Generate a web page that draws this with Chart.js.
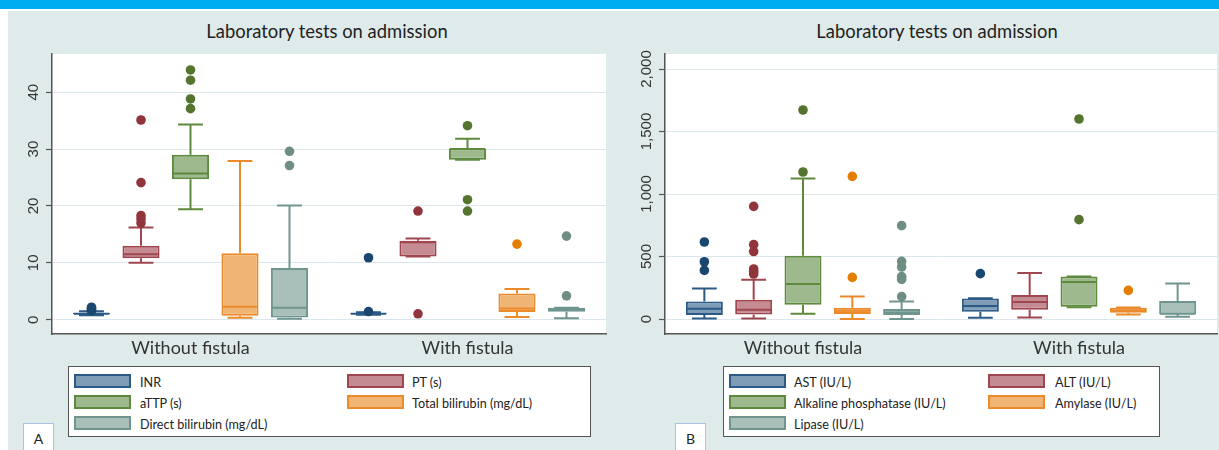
<!DOCTYPE html>
<html><head><meta charset="utf-8">
<script src="https://cdn.jsdelivr.net/npm/chart.js@4.4.0/dist/chart.umd.min.js"></script>
<style>
html,body{margin:0;padding:0;background:#fff;width:1219px;height:450px;overflow:hidden;font-family:Lato,"Open Sans",sans-serif;}
#band{position:absolute;left:0;top:0;width:1219px;height:9px;background:#00aeef;}
#bg{position:absolute;left:8px;top:11px;width:1211px;height:439px;background:#dfeaea;}
.title{position:absolute;top:18px;font-size:20px;line-height:24px;color:#222;white-space:nowrap;transform:translateX(-50%) scaleX(0.92);}
canvas{position:absolute;}
.legend{position:absolute;top:366px;height:69px;background:#fff;border:1.5px solid #555;}
.sw{position:absolute;width:53px;height:10px;border:2px solid;}
.lt{position:absolute;font-size:14px;line-height:16px;color:#222;white-space:nowrap;transform:scaleX(0.9);transform-origin:left center;}
.tag{position:absolute;top:423px;width:29px;height:30px;background:#fff;border:1px solid #a9c3e3;font-size:14px;text-align:center;line-height:30px;color:#222;}
</style></head>
<body>
<div id="band"></div>
<div id="bg"></div>
<div class="title" style="left:327px">Laboratory tests on admission</div>
<div class="title" style="left:937px">Laboratory tests on admission</div>
<canvas id="cA" width="602" height="355" style="left:8px;top:11px;width:602px;height:355px"></canvas>
<canvas id="cB" width="607" height="355" style="left:612px;top:11px;width:607px;height:355px"></canvas>
<div class="legend" id="legA" style="left:68px;width:521px"></div>
<div class="legend" id="legB" style="left:723px;width:435px"></div>
<div class="tag" style="left:23px">A</div>
<div class="tag" style="left:675px">B</div>
<script>
// ---------- data ----------
const groups = ['Without fistula', 'With fistula'];

// Panel A (each row: [without fistula, with fistula])
const seriesA = ['INR', 'PT (s)', 'aTTP (s)', 'Total bilirubin (mg/dL)', 'Direct bilirubin (mg/dL)'];
const tickValuesA = [0, 10, 20, 30, 40];
const tickLabelsA = ['0', '10', '20', '30', '40'];
const q1A  = [[0.95, 0.95], [10.8, 11.1], [24.7, 28.1], [0.7, 1.35], [0.4, 1.4]];
const medA = [[1.05, 1.05], [11.5, 13.6], [25.7, 30.0], [2.3, 2.0], [2.1, 1.7]];
const q3A  = [[1.2, 1.15], [13.0, 13.9], [29.0, 30.1], [11.7, 4.6], [9.1, 2.1]];
const loA  = [[0.8, 0.9], [10.0, 11.1], [19.4, 28.1], [0.35, 0.5], [0.2, 0.25]];
const hiA  = [[1.5, 1.3], [16.2, 14.3], [34.3, 31.8], [27.9, 5.4], [20.1, 2.1]];
const outA = [
  [[1.6, 1.8, 2.0, 2.2], [1.45, 10.9]],
  [[35.1, 24.1, 18.3, 17.7, 17.0], [19.1, 1.05]],
  [[43.9, 42.1, 38.8, 37.1], [34.1, 21.1, 19.1]],
  [[], [13.3]],
  [[29.6, 27.1], [14.7, 4.2]]
];

// Panel B
const seriesB = ['AST (IU/L)', 'ALT (IU/L)', 'Alkaline phosphatase (IU/L)', 'Amylase (IU/L)', 'Lipase (IU/L)'];
const tickValuesB = [0, 500, 1000, 1500, 2000];
const tickLabelsB = ['0', '500', '1,000', '1,500', '2,000'];
const q1B  = [[32, 59], [37, 75], [115, 99], [40, 51], [32, 37]];
const medB = [[83, 104], [75, 136], [280, 296], [67, 69], [53, 42]];
const q3B  = [[141, 165], [155, 192], [507, 341], [91, 91], [80, 144]];
const loB  = [[5, 11], [5, 13], [43, 95], [0, 37], [0, 19]];
const hiB  = [[245, 167], [315, 368], [1125, 341], [181, 93], [141, 285]];
const outB = [
  [[616, 458, 389], [363]],
  [[901, 595, 540, 400, 380, 360], []],
  [[1672, 1176], [1600, 795]],
  [[1141, 333], [229]],
  [[747, 461, 416, 339, 317, 179], []]
];

// ---------- styles ----------
const fills = ['#7f9cb6', '#c48c92', '#9fb98e', '#f0b574', '#a8bfba'];
const lines = ['#2a5a85', '#a0464f', '#5d8a3c', '#eb8a2a', '#6f958e'];
const dots  = ['#1a476f', '#90353b', '#55752f', '#e37e00', '#6e8e84'];

function makePanel(id, series, q1, med, q3, lo, hi, out, tickValues, tickLabels, yMin, yMax, yW, tickPad, padRight) {
  const bgPlugin = {
    id: 'plotBg',
    beforeDraw(chart) {
      const {ctx, chartArea: a} = chart;
      ctx.save(); ctx.fillStyle = '#fff';
      ctx.fillRect(a.left, a.top, a.right - a.left, a.bottom - a.top);
      ctx.restore();
    }
  };
  const boxPlugin = {
    id: 'boxExtras',
    afterDatasetsDraw(chart) {
      const ctx = chart.ctx, y = chart.scales.y;
      const py = v => y.getPixelForValue(v);
      series.forEach((_, i) => {
        chart.getDatasetMeta(i).data.forEach((bar, j) => {
          const x = bar.x, w = bar.width, cap = w * 0.67;
          ctx.save();
          ctx.strokeStyle = lines[i]; ctx.lineWidth = 2;
          ctx.beginPath();
          if (hi[i][j] > q3[i][j]) { ctx.moveTo(x, py(q3[i][j])); ctx.lineTo(x, py(hi[i][j])); }
          ctx.moveTo(x - cap / 2, py(hi[i][j])); ctx.lineTo(x + cap / 2, py(hi[i][j]));
          if (lo[i][j] < q1[i][j]) { ctx.moveTo(x, py(q1[i][j])); ctx.lineTo(x, py(lo[i][j])); }
          ctx.moveTo(x - cap / 2, py(lo[i][j])); ctx.lineTo(x + cap / 2, py(lo[i][j]));
          ctx.moveTo(x - w / 2 + 1, py(med[i][j])); ctx.lineTo(x + w / 2 - 1, py(med[i][j]));
          ctx.stroke();
          ctx.fillStyle = dots[i];
          out[i][j].forEach(v => { ctx.beginPath(); ctx.arc(x, py(v), 4.8, 0, Math.PI * 2); ctx.fill(); });
          ctx.restore();
        });
      });
    }
  };
  return new Chart(document.getElementById(id), {
    type: 'bar',
    data: {
      labels: groups,
      datasets: series.map((name, i) => ({
        label: name,
        data: groups.map((g, j) => [q1[i][j], q3[i][j]]),
        backgroundColor: fills[i], borderColor: lines[i], borderWidth: 2, borderSkipped: false,
        categoryPercentage: 0.8935, barPercentage: 0.75
      }))
    },
    options: {
      responsive: false, animation: false, devicePixelRatio: 1,
      layout: {padding: {left: 0, right: padRight, top: 43, bottom: 0}},
      plugins: {legend: {display: false}, tooltip: {enabled: false}, title: {display: false}},
      scales: {
        x: {
          type: 'category',
          afterFit: s => { s.height = 32; },
          grid: {display: false, drawTicks: false, tickLength: 0},
          border: {display: true, color: '#555', width: 1.5},
          ticks: {font: {family: 'Lato', size: 18}, color: '#333', padding: 3, maxRotation: 0, autoSkip: false}
        },
        y: {
          type: 'linear', min: yMin, max: yMax,
          afterBuildTicks: s => { s.ticks = tickValues.map(v => ({value: v})); },
          afterFit: s => { s.width = yW; },
          ticks: {
            callback: (v, idx) => tickLabels[idx],
            minRotation: 90, maxRotation: 90, crossAlign: 'center', padding: tickPad, autoSkip: false,
            font: {family: 'Liberation Sans', size: 15}, color: '#333'
          },
          grid: {color: '#dbe7ec', lineWidth: 1, drawTicks: true, tickLength: 6, tickColor: '#555', tickWidth: 1.2},
          border: {display: true, color: '#555', width: 1.5}
        }
      }
    },
    plugins: [bgPlugin, boxPlugin]
  });
}

makePanel('cA', seriesA, q1A, medA, q3A, loA, hiA, outA, tickValuesA, tickLabelsA, -2.5, 46.7, 44, 4, 4);
makePanel('cB', seriesB, q1B, medB, q3B, loB, hiB, outB, tickValuesB, tickLabelsB, -120, 2120, 53, -7, 2);

function makeLegend(id, series, col2Sw, col2Tx, col1Tx) {
  const el = document.getElementById(id);
  series.forEach((name, i) => {
    const row = Math.floor(i / 2), col = i % 2;
    const top = 7 + row * 21;
    const sw = document.createElement('div');
    sw.className = 'sw';
    sw.style.left = (col ? col2Sw : 5) + 'px';
    sw.style.top = top + 'px';
    sw.style.background = fills[i];
    sw.style.borderColor = lines[i];
    el.appendChild(sw);
    const t = document.createElement('div');
    t.className = 'lt';
    t.textContent = name;
    t.style.left = (col ? col2Tx : col1Tx) + 'px';
    t.style.top = (top - 0.5) + 'px';
    el.appendChild(t);
  });
}
makeLegend('legA', seriesA, 278, 343, 71);
makeLegend('legB', seriesB, 264, 331, 70);
</script>
</body></html>
